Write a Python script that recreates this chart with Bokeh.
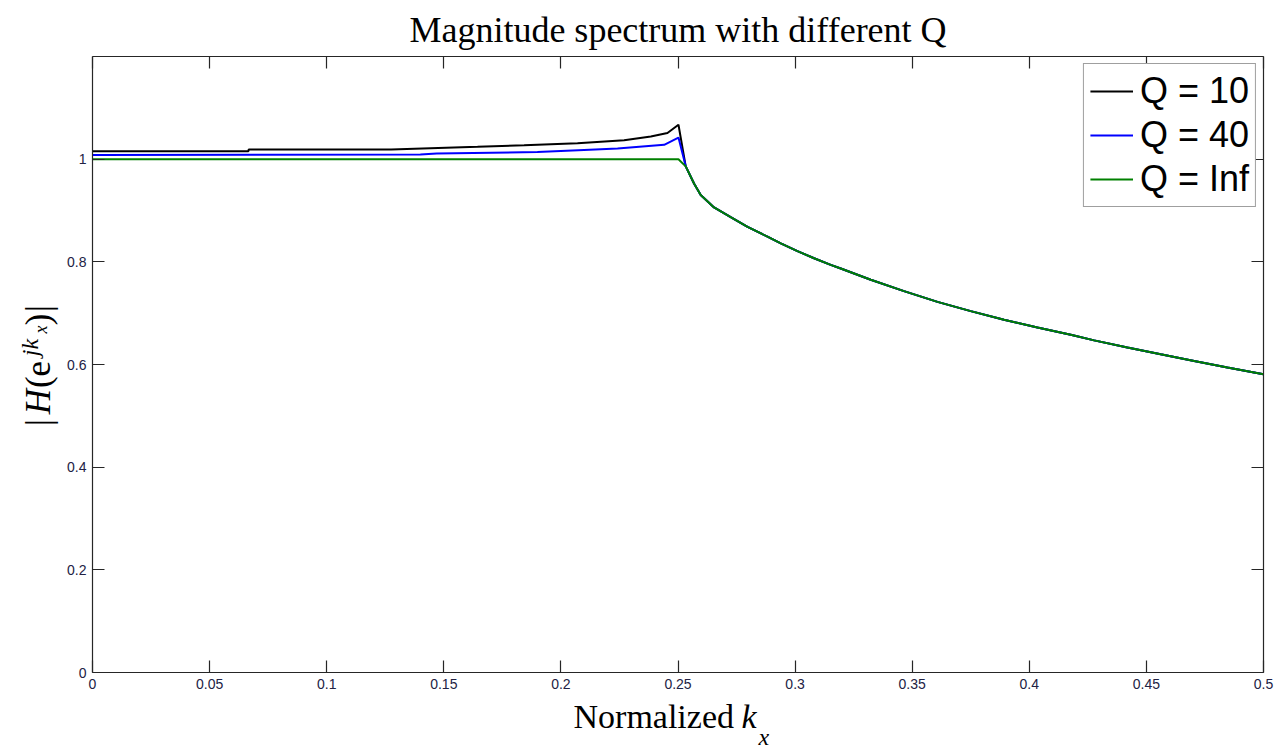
import math
from bokeh.plotting import figure
from bokeh.models import (Range1d, LinearAxis, FixedTicker, Label, Legend, LegendItem)
from bokeh.layouts import row, column
from bokeh.embed import file_html
from bokeh.resources import INLINE

# ---------------- data ----------------
x_ticks = [0, 0.05, 0.1, 0.15, 0.2, 0.25, 0.3, 0.35, 0.4, 0.45, 0.5]
x_tick_labels = ["0", "0.05", "0.1", "0.15", "0.2", "0.25", "0.3", "0.35", "0.4", "0.45", "0.5"]
y_ticks = [0, 0.2, 0.4, 0.6, 0.8, 1.0]
y_tick_labels = ["0", "0.2", "0.4", "0.6", "0.8", "1"]

# common decaying part (all Q)
tail_x = [0.2533, 0.2569, 0.2597, 0.2654, 0.2725, 0.2797, 0.2882, 0.2939, 0.3010,
          0.3081, 0.3152, 0.3195, 0.3323, 0.3465, 0.3608, 0.3750, 0.3892, 0.4035,
          0.4177, 0.4277, 0.4419, 0.4561, 0.4704, 0.4846, 0.5]
tail_y = [0.986, 0.952, 0.930, 0.906, 0.887, 0.868, 0.849, 0.836, 0.821,
          0.807, 0.794, 0.787, 0.765, 0.743, 0.722, 0.704, 0.687, 0.672,
          0.658, 0.647, 0.633, 0.620, 0.607, 0.594, 0.581]

q10_x = [0, 0.0666, 0.0667, 0.1275, 0.1644, 0.1843, 0.2071, 0.2270, 0.2384, 0.2455, 0.2502]
q10_y = [1.0156, 1.0156, 1.019, 1.019, 1.024, 1.027, 1.031, 1.037, 1.044, 1.051, 1.067]

q40_x = [0, 0.140, 0.147, 0.190, 0.2099, 0.2242, 0.2441, 0.2502]
q40_y = [1.008, 1.009, 1.011, 1.014, 1.018, 1.021, 1.028, 1.042]

qinf_x = [0, 0.2502]
qinf_y = [1.0, 1.0]

series_names = ["Q = 10", "Q = 40", "Q = Inf"]
series_colors = ["#000000", "#0000ff", "#008000"]

SERIF = "Liberation Serif"
SANS = "Liberation Sans"

# ---------------- main figure ----------------
p = figure(width=1222, height=698, output_backend="svg", toolbar_location=None,
           x_range=Range1d(0, 0.5), y_range=Range1d(0, 1.2),
           min_border_left=28, min_border_right=23, min_border_top=56, min_border_bottom=26)
p.background_fill_color = "white"
p.border_fill_color = "white"
p.outline_line_color = None
p.xgrid.visible = False
p.ygrid.visible = False

p.title.text = "Magnitude spectrum with different Q"
p.title.text_font = SERIF
p.title.text_font_size = "36px"
p.title.text_font_style = "normal"
p.title.align = "center"
p.title.text_color = "#000000"
p.title.standoff = 13

axis_color = "#262626"
label_color = "#222244"

def style_axis(ax, show_labels):
    ax.axis_line_color = axis_color
    ax.axis_line_width = 1.2
    ax.major_tick_line_color = axis_color
    ax.major_tick_line_width = 1.2
    ax.major_tick_in = 12
    ax.major_tick_out = 0
    ax.minor_tick_line_color = None
    ax.major_label_text_font = SANS
    if show_labels:
        ax.major_label_text_color = label_color
        ax.major_label_text_font_size = "14px"
        ax.major_label_standoff = 6
    else:
        ax.major_label_text_color = None
        ax.major_label_text_font_size = "1px"
        ax.major_label_standoff = 0

xa = p.xaxis[0]
xa.ticker = FixedTicker(ticks=x_ticks)
xa.major_label_overrides = {t: s for t, s in zip(x_ticks, x_tick_labels)}
style_axis(xa, True)
ya = p.yaxis[0]
ya.ticker = FixedTicker(ticks=y_ticks)
ya.major_label_overrides = {t: s for t, s in zip(y_ticks, y_tick_labels)}
style_axis(ya, True)

top = LinearAxis(ticker=FixedTicker(ticks=x_ticks))
style_axis(top, False)
p.add_layout(top, "above")
right = LinearAxis(ticker=FixedTicker(ticks=y_ticks))
style_axis(right, False)
p.add_layout(right, "right")

# ---------------- lines ----------------
r10 = p.line(q10_x + tail_x, q10_y + tail_y, line_color=series_colors[0], line_width=2)
r40 = p.line(q40_x + tail_x, q40_y + tail_y, line_color=series_colors[1], line_width=2)
rinf = p.line(qinf_x + tail_x, qinf_y + tail_y, line_color=series_colors[2], line_width=2)

legend = Legend(items=[LegendItem(label=series_names[0], renderers=[r10]),
                       LegendItem(label=series_names[1], renderers=[r40]),
                       LegendItem(label=series_names[2], renderers=[rinf])],
                location="top_right")
legend.margin = 7
legend.padding = 6
legend.spacing = 2
legend.glyph_width = 43
legend.glyph_height = 40
legend.label_height = 40
legend.label_standoff = 7
legend.label_text_font = SANS
legend.label_text_font_size = "36px"
legend.label_text_color = "#000000"
legend.border_line_color = "#404040"
legend.border_line_width = 1.5
legend.background_fill_color = "white"
legend.background_fill_alpha = 1.0
p.add_layout(legend, "center")

# ---------------- label panels ----------------
def blank_fig(w, h):
    f = figure(width=w, height=h, output_backend="svg", toolbar_location=None,
               x_range=Range1d(0, w), y_range=Range1d(0, h),
               x_axis_type=None, y_axis_type=None, min_border=0)
    f.outline_line_color = None
    f.xgrid.visible = False
    f.ygrid.visible = False
    f.background_fill_color = "white"
    f.border_fill_color = "white"
    return f

def lab(f, text, sx, sy, size, style="normal", angle=0.0, align="center"):
    f.add_layout(Label(x=sx, y=sy, x_units="screen", y_units="screen",
                       text=text, text_font=SERIF, text_font_size=size,
                       text_font_style=style, angle=angle, text_align=align,
                       text_baseline="middle", text_color="#000000"))

# y label panel: its frame is aligned with the main frame (bottom at canvas y 672)
FB = 672
yl = blank_fig(64, 698)
A = math.pi / 2
lab(yl, "|", 38, FB - 422, "35px", angle=A)
lab(yl, "H", 38, FB - 401, "35px", "italic", angle=A)
lab(yl, "(e", 38, FB - 374, "35px", angle=A)
lab(yl, "jk", 29, FB - 347, "24px", "italic", angle=A)
lab(yl, "x", 40, FB - 329, "18px", "italic", angle=A)
lab(yl, ")", 38, FB - 319, "35px", angle=A)
lab(yl, "|", 38, FB - 308, "35px", angle=A)

# x label panel: canvas y 698..753 ; screen y = 753 - canvas y
xl = blank_fig(1286, 55)
lab(xl, "Normalized", 573, 753 - 716, "34px", align="left")
lab(xl, "k", 741, 753 - 716, "34px", "italic", align="left")
lab(xl, "x", 758, 753 - 736, "24px", "italic", align="left")

layout = column(row(yl, p), xl)
open("out.html", "w").write(file_html(layout, INLINE))
